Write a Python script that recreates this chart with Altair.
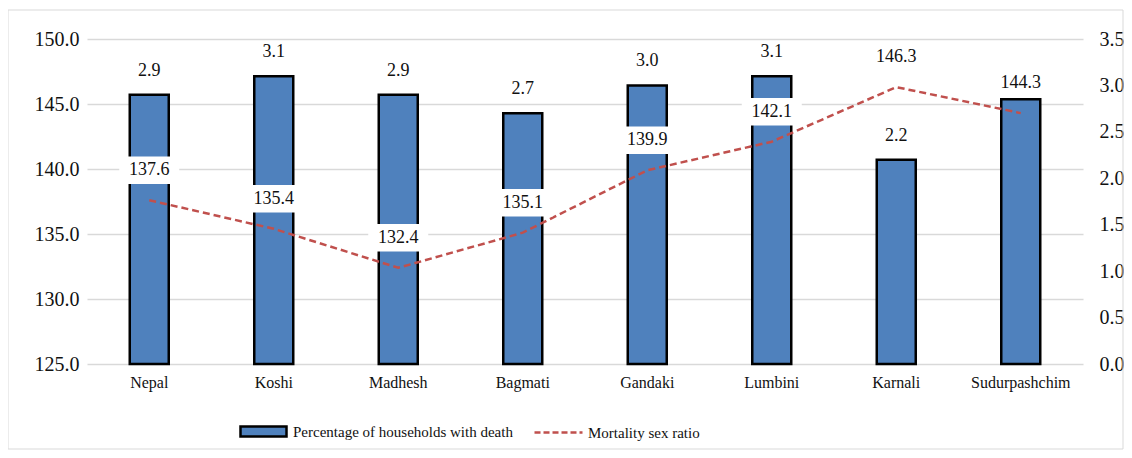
import altair as alt
import pandas as pd

regions = ["Nepal", "Koshi", "Madhesh", "Bagmati", "Gandaki", "Lumbini", "Karnali", "Sudurpashchim"]
pct_households = [2.9, 3.1, 2.9, 2.7, 3.0, 3.1, 2.2, 2.85]
pct_labels = ["2.9", "3.1", "2.9", "2.7", "3.0", "3.1", "2.2", ""]
sex_ratio = [137.6, 135.4, 132.4, 135.1, 139.9, 142.1, 146.3, 144.3]
ratio_labels = ["137.6", "135.4", "132.4", "135.1", "139.9", "142.1", "146.3", "144.3"]

BAR_NAME = "Percentage of households with death"
LINE_NAME = "Mortality sex ratio"

df = pd.DataFrame({
    "region": regions,
    "pct": pct_households,
    "pct_label": pct_labels,
    "ratio": sex_ratio,
    "ratio_label": ratio_labels,
    "bar_series": BAR_NAME,
    "line_series": LINE_NAME,
})

NUM_FONT = "Liberation Serif, serif"
TXT_FONT = "Liberation Serif, serif"

x_enc = alt.X("region:N", sort=regions, title=None,
              scale=alt.Scale(paddingInner=0, paddingOuter=0),
              axis=alt.Axis(labelAngle=0, ticks=False, tickSize=0, domain=False, grid=False,
                            labelFont=TXT_FONT, labelFontSize=16, labelColor="#111111",
                            labelPadding=10))

y_bar = alt.Y("pct:Q", title=None,
              scale=alt.Scale(domain=[0, 3.5], nice=False),
              axis=alt.Axis(orient="right", values=[0, 0.5, 1, 1.5, 2, 2.5, 3, 3.5], format=".1f",
                            grid=False, ticks=False, domain=False, labelFont=NUM_FONT,
                            labelFontSize=20, labelColor="#111111", labelPadding=16))

y_line = alt.Y("ratio:Q", title=None,
               scale=alt.Scale(domain=[125, 150], nice=False),
               axis=alt.Axis(orient="left", values=[125, 130, 135, 140, 145, 150], format=".1f",
                             grid=True, gridColor="#d9d9d9", gridWidth=1.5, ticks=False,
                             domain=False, labelFont=NUM_FONT, labelFontSize=20,
                             labelColor="#111111", labelPadding=8))

base = alt.Chart(df)

bars = base.mark_bar(width=39, stroke="black", strokeWidth=2.5).encode(
    x=x_enc,
    y=y_bar,
    fill=alt.Fill("bar_series:N", title=None,
                  scale=alt.Scale(domain=[BAR_NAME], range=["#4F81BD"]),
                  legend=alt.Legend(orient="none", legendX=152, legendY=368, title=None,
                                    symbolType="M-1,-0.22L1,-0.22L1,0.22L-1,0.22Z",
                                    symbolSize=2116, symbolStrokeColor="black",
                                    symbolStrokeWidth=2.5, symbolFillColor="#4F81BD",
                                    labelFont=TXT_FONT, labelFontSize=15, labelColor="#111111",
                                    labelOffset=5, labelLimit=0, padding=0)),
)

bar_text = base.mark_text(font=NUM_FONT, fontSize=18, color="#111111", baseline="middle", dy=-24).encode(
    x=x_enc,
    y=y_bar,
    text="pct_label:N",
)

line = base.mark_line(strokeWidth=2.5, strokeDash=[7, 4]).encode(
    x=x_enc,
    y=y_line,
    stroke=alt.Stroke("line_series:N", title=None,
                      scale=alt.Scale(domain=[LINE_NAME], range=["#C0504D"]),
                      legend=alt.Legend(orient="none", legendX=446, legendY=368, title=None,
                                        symbolType="stroke", symbolSize=2304,
                                        symbolDash=[6, 3], symbolStrokeWidth=2.5,
                                        labelFont=TXT_FONT, labelFontSize=15, labelColor="#111111",
                                        labelOffset=4, labelLimit=0, padding=0)),
)

boxes = base.mark_point(shape="M-1,-0.46L1,-0.46L1,0.46L-1,0.46Z", size=3600, filled=True,
                        fill="white", opacity=1, strokeWidth=0, yOffset=-30).encode(
    x=x_enc,
    y=y_line,
)

line_text = base.mark_text(font=NUM_FONT, fontSize=18, color="#111111", baseline="middle", dy=-30).encode(
    x=x_enc,
    y=y_line,
    text="ratio_label:N",
)

frame = alt.Chart(pd.DataFrame({"f": [0]})).mark_rect(fill="transparent", stroke="#d9d9d9", strokeWidth=1).encode(
    x=alt.value(-79), x2=alt.value(1036), y=alt.value(-29), y2=alt.value(410)
)

bar_group = alt.layer(bars, bar_text)
line_group = alt.layer(line, boxes, line_text)

chart = alt.layer(frame, bar_group, line_group).resolve_scale(y="independent").properties(
    width=996, height=325,
    padding={"left": 79, "top": 31, "right": 41, "bottom": 86},
    autosize=alt.AutoSizeParams(type="none"),
    background="white",
).configure_view(strokeWidth=0, stroke="transparent").configure_axis(domain=False, ticks=False)

chart.save("out.html", embed_options={"renderer": "svg", "actions": False})
